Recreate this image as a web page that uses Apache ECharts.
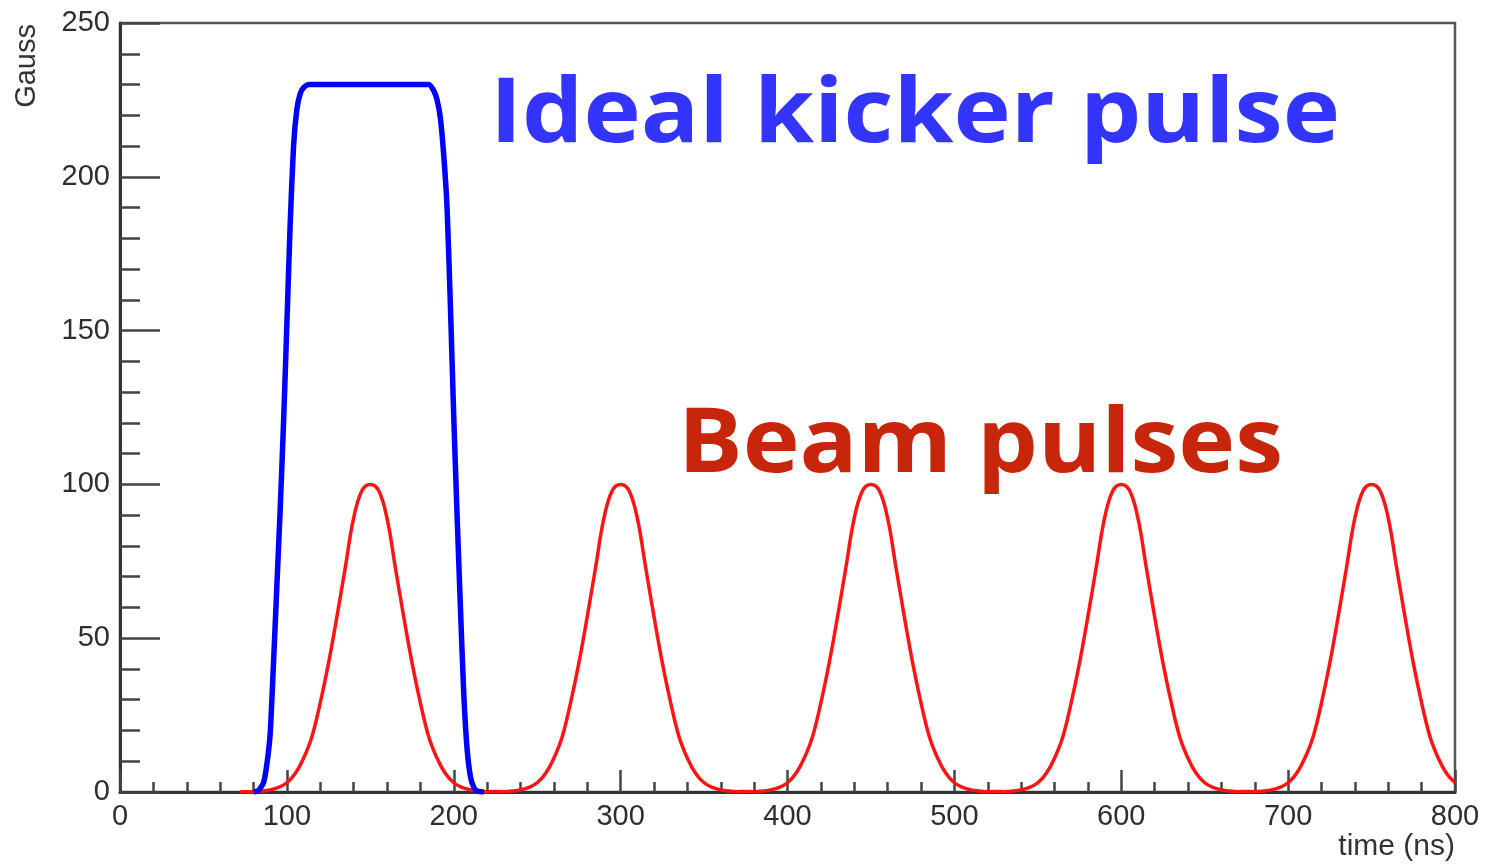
<!DOCTYPE html>
<html>
<head>
<meta charset="utf-8">
<script src="https://cdn.jsdelivr.net/npm/echarts@6/dist/echarts.min.js"></script>
<style>
    html, body { margin: 0; padding: 0; background: #fff; }
    #chart { width: 1487px; height: 865px; }
</style>
</head>
<body>
<div id="chart"></div>
<script>
    // beam pulses (red), time in ns
    var redTime = [72, 75, 80, 85, 90, 95, 100, 105, 110, 115, 120, 125, 130, 135, 140, 145, 150, 155, 160, 165, 170, 175, 180, 185, 190, 195, 200, 205, 210, 215, 220,
        225, 230, 235, 240, 245, 250, 255, 260, 265, 270, 275, 280, 285, 290, 295, 300, 305, 310, 315, 320, 325, 330, 335, 340, 345, 350, 355, 360, 365, 370,
        375, 380, 385, 390, 395, 400, 405, 410, 415, 420, 425, 430, 435, 440, 445, 450, 455, 460, 465, 470, 475, 480, 485, 490, 495, 500, 505, 510, 515, 520,
        525, 530, 535, 540, 545, 550, 555, 560, 565, 570, 575, 580, 585, 590, 595, 600, 605, 610, 615, 620, 625, 630, 635, 640, 645, 650, 655, 660, 665, 670,
        675, 680, 685, 690, 695, 700, 705, 710, 715, 720, 725, 730, 735, 740, 745, 750, 755, 760, 765, 770, 775, 780, 785, 790, 795, 800]
    var redValue = [0, 0.1, 0.1, 0.3, 0.7, 1.5, 3, 6, 11, 18, 29, 42, 57, 73, 89, 98, 100, 98, 89, 73, 57, 42, 29, 18, 11, 6, 3, 1.5, 0.7, 0.3, 0.1,
        0.2, 0.1, 0.3, 0.7, 1.5, 3, 6, 11, 18, 29, 42, 57, 73, 89, 98, 100, 98, 89, 73, 57, 42, 29, 18, 11, 6, 3, 1.5, 0.7, 0.3, 0.1,
        0.2, 0.1, 0.3, 0.7, 1.5, 3, 6, 11, 18, 29, 42, 57, 73, 89, 98, 100, 98, 89, 73, 57, 42, 29, 18, 11, 6, 3, 1.5, 0.7, 0.3, 0.1,
        0.2, 0.1, 0.3, 0.7, 1.5, 3, 6, 11, 18, 29, 42, 57, 73, 89, 98, 100, 98, 89, 73, 57, 42, 29, 18, 11, 6, 3, 1.5, 0.7, 0.3, 0.1,
        0.2, 0.1, 0.3, 0.7, 1.5, 3, 6, 11, 18, 29, 42, 57, 73, 89, 98, 100, 98, 89, 73, 57, 42, 29, 18, 11, 6, 3]

    // ideal kicker pulse (blue)
    var blueTime = [80, 83, 86, 88, 90, 92, 94, 96, 98, 100, 102, 104, 106, 108, 110, 113, 130, 150, 170, 185,
        188, 190, 192, 194, 196, 198, 200, 202, 204, 206, 208, 210, 212, 214, 218]
    var blueValue = [0, 0.5, 3, 9, 19, 42, 67, 92, 120, 152, 185, 210, 222, 227, 229, 230, 230, 230, 230, 230,
        228, 225, 219, 207, 190, 158, 122, 90, 60, 32, 14, 5, 1.5, 0.3, 0]

    var xTicks = [0, 100, 200, 300, 400, 500, 600, 700, 800]
    var yTicks = [0, 50, 100, 150, 200, 250]

    function pairs(xs, ys) {
        return xs.map(function (x, i) { return [x, ys[i]] })
    }

    // stretch the big labels to the width they have in the original
    var ctx = document.createElement('canvas').getContext('2d')
    var bigFont = 'bold 90px "Open Sans"'
    function stretch(text, width) {
        ctx.font = bigFont
        return width / ctx.measureText(text).width
    }

    var axisText = { color: '#2e2e2e', fontSize: 29, fontFamily: 'Liberation Sans' }

    var chart = echarts.init(document.getElementById('chart'))
    chart.setOption({
        animation: false,
        grid: {
            left: 120, right: 32, top: 23, bottom: 73,
            show: true, borderColor: '#555', borderWidth: 2.5
        },
        xAxis: {
            type: 'value',
            min: xTicks[0], max: xTicks[xTicks.length - 1], interval: 100,
            axisLine: { lineStyle: { color: '#333', width: 3 } },
            axisTick: { inside: true, length: 22, lineStyle: { color: '#444', width: 2.5 } },
            minorTick: { show: true, splitNumber: 5, length: 10, lineStyle: { color: '#444', width: 2.5 } },
            splitLine: { show: false },
            axisLabel: Object.assign({ margin: 10 }, axisText)
        },
        yAxis: {
            type: 'value',
            min: yTicks[0], max: yTicks[yTicks.length - 1], interval: 50,
            axisLine: { show: true, lineStyle: { color: '#333', width: 3 } },
            axisTick: { show: true, inside: true, length: 40, lineStyle: { color: '#444', width: 2.5 } },
            minorTick: { show: true, splitNumber: 5, length: 20, lineStyle: { color: '#444', width: 2.5 } },
            splitLine: { show: false },
            axisLabel: Object.assign({ margin: 10 }, axisText)
        },
        graphic: [
            {
                type: 'text', x: 27, y: 24, rotation: Math.PI / 2,
                style: { text: 'Gauss', fill: '#333', font: '29px "Liberation Sans"', align: 'right', verticalAlign: 'middle' }
            },
            {
                type: 'text', x: 1455, y: 847,
                style: { text: 'time (ns)', fill: '#333', font: '30px "Liberation Sans"', align: 'right', verticalAlign: 'middle' }
            },
            {
                type: 'text', x: 490, y: 116, scaleX: stretch('Ideal kicker pulse', 850),
                style: { text: 'Ideal kicker pulse', fill: '#3434ff', font: bigFont, align: 'left', verticalAlign: 'middle' }
            },
            {
                type: 'text', x: 678, y: 446, scaleX: stretch('Beam pulses', 605),
                style: { text: 'Beam pulses', fill: '#c8260a', font: bigFont, align: 'left', verticalAlign: 'middle' }
            }
        ],
        series: [
            {
                type: 'line',
                data: pairs(redTime, redValue),
                showSymbol: false,
                smooth: 0.4,
                lineStyle: { color: '#ff1414', width: 3.5 }
            },
            {
                type: 'line',
                data: pairs(blueTime, blueValue),
                showSymbol: false,
                smooth: 0.2,
                lineStyle: { color: '#0000ff', width: 5.5 }
            }
        ]
    })
</script>
</body>
</html>
